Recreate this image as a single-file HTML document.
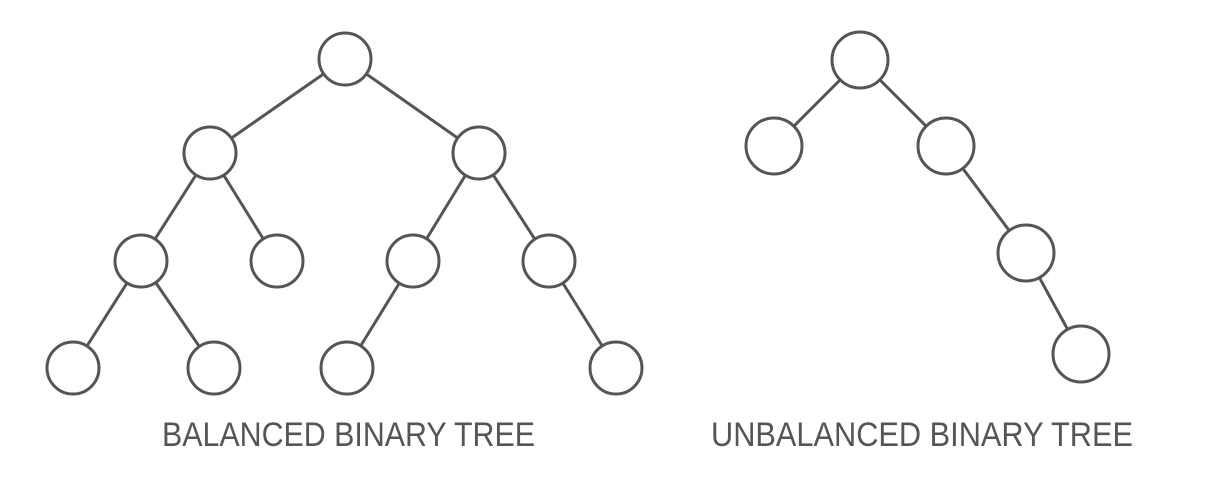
<!DOCTYPE html>
<html><head><meta charset="utf-8"><style>html,body{margin:0;padding:0;background:#fff;}svg{display:block}</style></head>
<body>
<svg width="1206" height="482" viewBox="0 0 1206 482" xmlns="http://www.w3.org/2000/svg">
<g stroke="#555" stroke-width="3" fill="none">
<line x1="345" y1="59" x2="210" y2="153"/><line x1="345" y1="59" x2="479" y2="153"/>
<line x1="210" y1="153" x2="141" y2="261"/><line x1="210" y1="153" x2="277" y2="261"/>
<line x1="479" y1="153" x2="413" y2="261"/><line x1="479" y1="153" x2="549" y2="261"/>
<line x1="141" y1="261" x2="73" y2="368"/><line x1="141" y1="261" x2="214" y2="368"/>
<line x1="413" y1="261" x2="347" y2="368"/><line x1="549" y1="261" x2="616" y2="368"/>
<line x1="860" y1="60" x2="774" y2="146"/><line x1="860" y1="60" x2="946" y2="146"/>
<line x1="946" y1="146" x2="1026" y2="253"/><line x1="1026" y1="253" x2="1081" y2="354"/>
</g>
<g stroke="#555" stroke-width="3" fill="#fff">
<circle cx="345" cy="59" r="26"/>
<circle cx="210" cy="153" r="26"/><circle cx="479" cy="153" r="26"/>
<circle cx="141" cy="261" r="26"/><circle cx="277" cy="261" r="26"/><circle cx="413" cy="261" r="26"/><circle cx="549" cy="261" r="26"/>
<circle cx="73" cy="368" r="26"/><circle cx="214" cy="368" r="26"/><circle cx="347" cy="368" r="26"/><circle cx="616" cy="368" r="26"/>
<circle cx="860" cy="60" r="28"/><circle cx="774" cy="146" r="28"/><circle cx="946" cy="146" r="28"/><circle cx="1026" cy="253" r="28"/><circle cx="1081" cy="354" r="28"/>
</g>
<g fill="#555" font-family="Liberation Sans, sans-serif" font-size="34">
<text x="162" y="446" textLength="373" lengthAdjust="spacingAndGlyphs">BALANCED BINARY TREE</text>
<text x="711" y="446" textLength="422" lengthAdjust="spacingAndGlyphs">UNBALANCED BINARY TREE</text>
</g>
</svg>
</body></html>
